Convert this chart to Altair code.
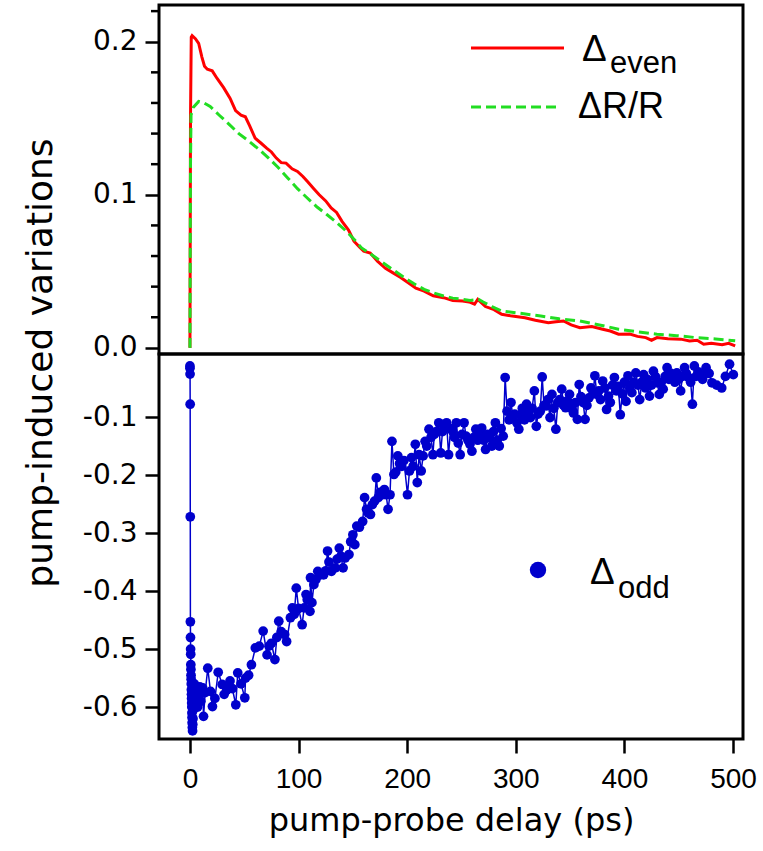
import altair as alt
import pandas as pd

# ---------------- data ----------------
even_delay = [0, 0.5, 1.2, 2, 5, 8, 11, 13.4, 16, 20.5, 25, 31, 37, 42, 47, 51, 55, 60, 65,
              70.6, 75, 79.5, 84, 88.5, 94, 99, 104, 108, 114, 119, 125, 130, 135, 140, 146,
              151, 156, 160, 166, 172.6, 180, 187, 194, 201, 208, 215.6, 224, 233.5, 242, 251,
              257, 262, 265, 267.5, 272, 280, 287, 295, 308.5, 318, 330, 337, 344, 351, 359,
              370, 380, 387, 394.6, 405, 412, 419.7, 425, 430, 440, 452, 460, 467, 473, 480,
              490, 496, 502]
even_value = [0, 0.15, 0.203, 0.204, 0.202, 0.199, 0.19, 0.184, 0.182, 0.181, 0.176, 0.170,
              0.163, 0.155, 0.152, 0.151, 0.145, 0.137, 0.134, 0.1305, 0.128, 0.124, 0.121,
              0.1207, 0.117, 0.1153, 0.112, 0.1088, 0.104, 0.100, 0.096, 0.0914, 0.0885,
              0.0827, 0.077, 0.0697, 0.066, 0.0632, 0.062, 0.0567, 0.052, 0.049, 0.046,
              0.0425, 0.039, 0.0371, 0.034, 0.0328, 0.031, 0.0306, 0.030, 0.0285, 0.0317,
              0.030, 0.027, 0.025, 0.022, 0.021, 0.0197, 0.018, 0.0165, 0.017, 0.0176, 0.015,
              0.0132, 0.014, 0.0122, 0.011, 0.0089, 0.009, 0.0075, 0.0067, 0.005, 0.0067,
              0.006, 0.0057, 0.0045, 0.005, 0.0024, 0.003, 0.002, 0.003, 0.0013]

drr_delay = [0, 0.5, 1, 3, 8, 13, 18.6, 27, 36.6, 45, 54.5, 63, 72.4, 81, 90, 99, 108, 117,
             126, 135, 144, 151, 158, 169, 180, 189, 197.7, 206, 215.6, 224, 233.5, 242, 251,
             258, 265.7, 270, 278, 287, 300, 323, 340, 359, 377, 394.6, 412, 430, 448, 466,
             484, 502]
drr_value = [0, 0.12, 0.152, 0.157, 0.161, 0.160, 0.1577, 0.152, 0.1457, 0.140, 0.1349,
             0.130, 0.124, 0.118, 0.111, 0.104, 0.0979, 0.092, 0.0871, 0.082, 0.0762, 0.071,
             0.0653, 0.060, 0.0545, 0.050, 0.0458, 0.042, 0.0382, 0.036, 0.0339, 0.0325,
             0.0317, 0.031, 0.0317, 0.030, 0.027, 0.0241, 0.023, 0.0208, 0.019, 0.0176,
             0.015, 0.0122, 0.0105, 0.0089, 0.008, 0.0067, 0.0058, 0.0046]

odd_delay = [0, 0, 0.1, 0.2, 0.3, 0.4, 0.5, 0.6, 0.7, 0.8, 0.9, 1.0, 1.1, 1.2, 1.3, 1.4, 1.5,
             1.6, 1.7, 1.8, 1.9, 2.0, 2.2, 2.4, 2.6, 2.8, 3.0, 3.3, 3.6, 4.0, 4.5, 5, 6, 7, 8,
             9, 10, 11.7, 12.5, 14, 16.4, 18.9, 20.7, 23, 26, 29.7, 31.5, 34, 36.9, 39, 42.2,
             44, 47, 50.5, 51.2, 54, 56.6, 60.2, 63.8, 67.4, 71, 72.8, 75, 78.2, 80, 81.8, 84,
             87.2, 89, 92.5, 94.3, 96, 97.9, 100, 103.3, 105.1, 106.9, 108, 110.5, 111, 112.3,
             114.1, 116, 117.7, 120, 123.1, 125, 126.7, 128, 130.3, 133.9, 135.5, 137.5, 139,
             141, 142.9, 146.4, 148, 150, 151.8, 153.6, 156, 159, 160.8, 162.6, 164, 166.2,
             168, 170, 171.6, 173.4, 175, 177, 179, 180.6, 182.4, 184.2, 186, 187.8, 189.5,
             191.4, 193, 195, 197, 200.3, 202.1, 204, 205.5, 207.5, 209.3, 211, 212.9, 214.7,
             216.5, 218, 220.1, 222, 223.7, 225, 227, 229.1, 230.9, 232.5, 234, 236.3, 238.1,
             240, 241.7, 243.5, 245.3, 247, 248.8, 250.5, 252.4, 254.2, 256, 257.8, 259.6,
             261.5, 263.2, 265, 266.8, 268.6, 270.5, 272.2, 274, 275.8, 278, 279.5, 281.2, 283,
             284.8, 286.5, 288.4, 290.2, 292, 293.8, 295.6, 297.4, 299, 301, 302.8, 304.5, 306,
             308, 309.9, 311.5, 313.5, 315, 317.1, 318.9, 320.5, 322.5, 324.3, 326, 327.9,
             329.5, 331.5, 333.3, 335, 336.9, 338.7, 340.5, 342.3, 344, 345.9, 347.5, 349.5,
             351, 353.1, 355, 356.7, 358.4, 360, 362, 363.8, 365.5, 367.4, 369.2, 371, 372.8,
             374.6, 376.5, 378, 380, 382, 383.6, 385.4, 387, 389, 390.8, 392.5, 394.4, 396.2,
             398, 400, 401.5, 403.3, 405, 406.9, 408.5, 410.5, 412.5, 414.1, 416, 417.7, 419.5,
             421, 423.1, 425, 426.7, 428.5, 430.3, 432.1, 434, 435.7, 437.5, 439.3, 441, 443,
             444.7, 446.5, 448.3, 450, 451.8, 453.5, 455.4, 457, 459, 461, 462.6, 464.4, 466,
             468, 469.8, 472, 475.2, 478, 480.6, 485, 489.6, 493, 496.8, 500.3]
odd_value = [-0.012, -0.016, -0.026, -0.078, -0.272, -0.453, -0.480, -0.500, -0.509, -0.527,
             -0.535, -0.545, -0.552, -0.560, -0.570, -0.578, -0.585, -0.593, -0.600, -0.610,
             -0.618, -0.627, -0.635, -0.641, -0.630, -0.620, -0.605, -0.590, -0.575, -0.560,
             -0.600, -0.585, -0.570, -0.600, -0.580, -0.565, -0.590, -0.567, -0.616, -0.575,
             -0.533, -0.573, -0.599, -0.585, -0.540, -0.561, -0.578, -0.570, -0.555, -0.568,
             -0.596, -0.541, -0.560, -0.584, -0.550, -0.545, -0.527, -0.498, -0.495, -0.469,
             -0.510, -0.495, -0.490, -0.518, -0.480, -0.452, -0.470, -0.475, -0.487, -0.446,
             -0.429, -0.440, -0.395, -0.430, -0.458, -0.429, -0.406, -0.415, -0.435, -0.377,
             -0.420, -0.389, -0.380, -0.366, -0.372, -0.372, -0.365, -0.331, -0.350, -0.366,
             -0.360, -0.345, -0.326, -0.340, -0.360, -0.343, -0.337, -0.315, -0.303, -0.320,
             -0.288, -0.290, -0.280, -0.239, -0.259, -0.265, -0.268, -0.251, -0.245, -0.205,
             -0.239, -0.230, -0.234, -0.225, -0.234, -0.259, -0.234, -0.142, -0.199, -0.195,
             -0.167, -0.180, -0.185, -0.175, -0.234, -0.193, -0.170, -0.185, -0.147, -0.213,
             -0.165, -0.193, -0.167, -0.142, -0.150, -0.121, -0.135, -0.165, -0.130, -0.125,
             -0.110, -0.162, -0.125, -0.115, -0.110, -0.165, -0.120, -0.124, -0.135, -0.110,
             -0.145, -0.165, -0.130, -0.110, -0.133, -0.140, -0.147, -0.159, -0.135, -0.121,
             -0.140, -0.128, -0.119, -0.140, -0.156, -0.130, -0.136, -0.150, -0.125, -0.110,
             -0.140, -0.150, -0.120, -0.133, -0.032, -0.090, -0.105, -0.075, -0.101, -0.095,
             -0.110, -0.121, -0.096, -0.085, -0.105, -0.078, -0.095, -0.101, -0.085, -0.055,
             -0.116, -0.095, -0.090, -0.031, -0.080, -0.081, -0.070, -0.101, -0.061, -0.085,
             -0.121, -0.075, -0.070, -0.052, -0.080, -0.084, -0.072, -0.061, -0.085, -0.093,
             -0.075, -0.104, -0.044, -0.065, -0.075, -0.104, -0.080, -0.067, -0.050, -0.060,
             -0.029, -0.061, -0.055, -0.070, -0.038, -0.050, -0.087, -0.064, -0.075, -0.045,
             -0.032, -0.055, -0.047, -0.096, -0.060, -0.040, -0.073, -0.029, -0.050, -0.058,
             -0.040, -0.024, -0.045, -0.070, -0.040, -0.027, -0.050, -0.035, -0.064, -0.045,
             -0.021, -0.030, -0.041, -0.061, -0.040, -0.052, -0.030, -0.015, -0.035, -0.025,
             -0.029, -0.040, -0.024, -0.035, -0.055, -0.030, -0.015, -0.025, -0.032, -0.040,
             -0.078, -0.012, -0.030, -0.022, -0.027, -0.035, -0.015, -0.025, -0.041, -0.045,
             -0.050, -0.030, -0.009, -0.027]

top_major = [0, 0.1, 0.2]
top_minor = [0.02, 0.04, 0.06, 0.08, 0.12, 0.14, 0.16, 0.18, 0.22]
bottom_ticks = [-0.1, -0.2, -0.3, -0.4, -0.5, -0.6]
x_ticks = [0, 100, 200, 300, 400, 500]

# ---------------- styling ----------------
FONT = "Liberation Sans"
AXFONT = "DejaVu Sans"
W = 584
H_TOP = 349
H_BOT = 385
RED = "#FF0000"
GREEN = "#22DD22"
BLUE = "#0000CC"

x_scale = alt.Scale(domain=[-28.5, 509.2], nice=False, zero=False)
top_y = alt.Scale(domain=[-0.004, 0.224], nice=False, zero=False)
bot_y = alt.Scale(domain=[-0.655, 0.0086], nice=False, zero=False)

even_df = pd.DataFrame({"delay": even_delay, "value": even_value})
drr_df = pd.DataFrame({"delay": drr_delay, "value": drr_value})
odd_df = pd.DataFrame({"delay": odd_delay, "value": odd_value,
                       "idx": list(range(len(odd_delay)))})
minor_df = pd.DataFrame({"tick": top_minor})

top_x = alt.X("delay:Q", scale=x_scale, axis=None)
top_axis = alt.Axis(values=top_major, title=None, tickSize=14, format=".1f")
top_yenc = alt.Y("value:Q", scale=top_y, axis=top_axis)

even_line = alt.Chart(even_df).mark_line(color=RED, strokeWidth=3).encode(x=top_x, y=top_yenc)
drr_line = alt.Chart(drr_df).mark_line(color=GREEN, strokeWidth=3, strokeDash=[10, 5]).encode(
    x=top_x, y=top_yenc)
minor_rules = alt.Chart(minor_df).mark_rule(color="black", strokeWidth=2.5).encode(
    y=alt.Y("tick:Q", scale=top_y, axis=top_axis), x=alt.value(-8), x2=alt.value(0))

leg_df = pd.DataFrame({"a": [0]})
base_leg = alt.Chart(leg_df)
leg_red = base_leg.mark_rule(color=RED, strokeWidth=3).encode(
    x=alt.value(312), x2=alt.value(405), y=alt.value(43))
leg_green = base_leg.mark_rule(color=GREEN, strokeWidth=3, strokeDash=[10, 5]).encode(
    x=alt.value(312), x2=alt.value(400), y=alt.value(102))
leg_d1 = base_leg.mark_text(text="Δ", font=FONT, fontSize=37, align="left",
                            baseline="alphabetic", color="black").encode(
    x=alt.value(423), y=alt.value(56))
leg_even = base_leg.mark_text(text="even", font=FONT, fontSize=31, align="left",
                              baseline="alphabetic", color="black").encode(
    x=alt.value(451), y=alt.value(68))
leg_drr = base_leg.mark_text(text="ΔR/R", font=FONT, fontSize=36, align="left",
                             baseline="alphabetic", color="black").encode(
    x=alt.value(419), y=alt.value(113))

top = alt.layer(even_line, drr_line, minor_rules, leg_red, leg_green, leg_d1, leg_even,
                leg_drr).properties(width=W, height=H_TOP)

bot_x = alt.X("delay:Q", scale=x_scale,
              axis=alt.Axis(values=x_ticks, title="pump-probe delay (ps)", tickSize=14,
                            labelPadding=12, titlePadding=12,
                            labelFont=FONT, labelFontSize=28, titleFontSize=32))
bot_axis = alt.Axis(values=bottom_ticks, title=None, tickSize=14,
                    labelExpr="'-' + format(abs(datum.value), '.1f')")
bot_yenc = alt.Y("value:Q", scale=bot_y, axis=bot_axis)

odd_line = alt.Chart(odd_df).mark_line(color=BLUE, strokeWidth=1.5).encode(
    x=bot_x, y=bot_yenc, order="idx:Q")
odd_pts = alt.Chart(odd_df).mark_circle(color=BLUE, size=95, opacity=1).encode(
    x=bot_x, y=bot_yenc)

leg_dot = base_leg.mark_circle(color=BLUE, size=270, opacity=1).encode(
    x=alt.value(379), y=alt.value(216))
leg_d2 = base_leg.mark_text(text="Δ", font=FONT, fontSize=37, align="left",
                            baseline="alphabetic", color="black").encode(
    x=alt.value(431), y=alt.value(230))
leg_odd = base_leg.mark_text(text="odd", font=FONT, fontSize=31, align="left",
                             baseline="alphabetic", color="black").encode(
    x=alt.value(459), y=alt.value(244))
ytitle = base_leg.mark_text(text="pump-induced variations", font=AXFONT, fontSize=36,
                            angle=270, align="center", baseline="middle",
                            color="black").encode(x=alt.value(-118), y=alt.value(9))

bottom = alt.layer(odd_line, odd_pts, leg_dot, leg_d2, leg_odd, ytitle).properties(
    width=W, height=H_BOT)

chart = alt.vconcat(top, bottom, spacing=0, bounds="flush").properties(
    padding={"left": 21, "top": 3, "right": 5, "bottom": 5}
).configure_view(
    stroke="black", strokeWidth=3
).configure_axis(
    domain=False, grid=False, tickColor="black", tickWidth=2.5, labelOverlap=False,
    labelFont=AXFONT, labelFontSize=28, labelColor="black",
    titleFont=AXFONT, titleFontSize=32, titleColor="black", titleFontWeight="normal",
    labelPadding=8
)

chart.save("out.html", embed_options={"renderer": "svg", "actions": False})
